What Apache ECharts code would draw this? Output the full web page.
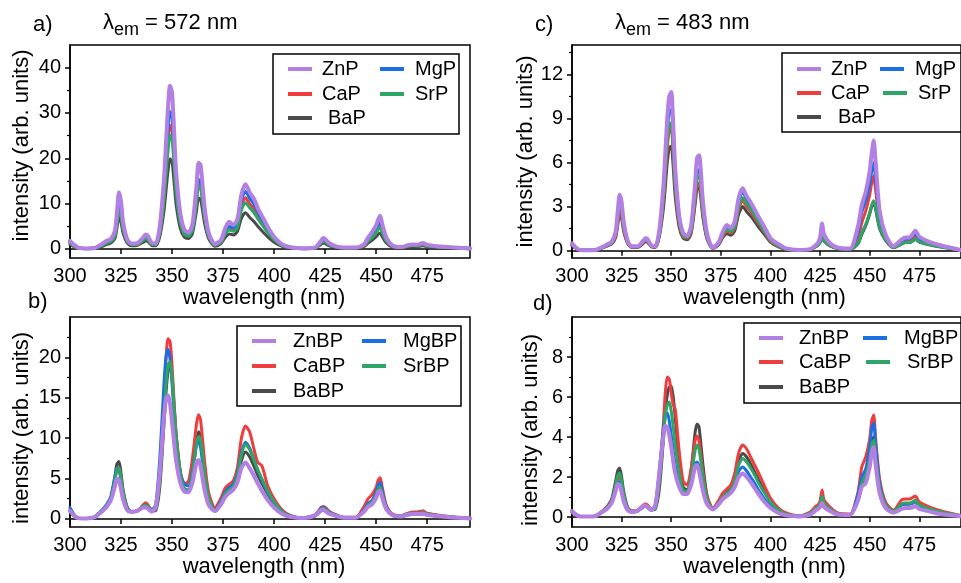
<!DOCTYPE html>
<html>
<head>
<meta charset="utf-8">
<title>Excitation spectra</title>
<script src="https://cdn.jsdelivr.net/npm/echarts@6/dist/echarts.min.js"></script>
<style>
  html, body { margin: 0; padding: 0; background: #fff; }
  #chart { width: 961px; height: 583px; }
</style>
</head>
<body>
<div id="chart"></div>
<script>
// Excitation wavelength grid (nm), shared by all four panels
const wavelength = [300, 302, 304, 308, 312, 316, 318, 320, 322, 323, 324, 325, 326, 328, 330, 333, 336, 337, 338, 340,
  342, 344, 346, 347, 348, 349, 350, 351, 352, 354, 356, 358, 360, 362, 363, 364, 366, 368, 371, 374,
  376, 378, 380, 382, 384, 386, 388, 390, 392, 394, 397, 400, 404, 408, 414, 420, 423, 424, 425, 426,
  427, 430, 434, 440, 444, 446, 448, 450, 451, 452, 453, 455, 458, 462, 466, 468, 470, 472, 473, 475,
  480, 486, 496];

// a) phosphates, emission monitored at 572 nm
const aZnP = [1.8, 0.9, 0.3, 0.1, 0.2, 1.2, 1.8, 2.2, 4.0, 8.0, 12.5, 10.5, 6.0, 2.2, 1.2, 1.3, 2.6, 3.2, 3.0, 1.4,
  1.2, 5.0, 15.0, 23.0, 31.0, 36.0, 34.5, 26.0, 17.0, 8.0, 4.3, 3.6, 5.5, 14.0, 19.0, 18.5, 9.0, 3.5, 1.1, 2.0,
  4.5, 6.0, 5.3, 6.5, 12.0, 14.3, 12.5, 11.2, 9.0, 7.3, 4.8, 2.7, 1.0, 0.4, 0.15, 0.3, 1.8, 2.4, 2.2, 1.7,
  1.3, 0.6, 0.3, 0.3, 1.0, 2.5, 3.7, 5.2, 6.5, 7.3, 5.5, 2.5, 0.8, 0.4, 0.9, 1.0, 0.9, 1.2, 1.3, 0.9,
  0.6, 0.4, 0.1];
const aMgP = [1.5, 0.7, 0.2, 0.1, 0.2, 1.0, 1.5, 1.8, 3.3, 6.5, 10.0, 8.5, 5.0, 1.9, 1.0, 1.1, 2.2, 2.7, 2.5, 1.2,
  1.0, 4.2, 12.5, 19.5, 26.0, 30.3, 29.0, 22.0, 14.5, 6.8, 3.7, 3.1, 4.6, 11.5, 15.3, 15.0, 7.5, 3.0, 0.9, 1.7,
  3.8, 5.0, 4.6, 5.7, 10.7, 12.7, 11.2, 10.0, 8.2, 6.6, 4.3, 2.4, 0.9, 0.35, 0.1, 0.25, 1.5, 2.0, 1.8, 1.4,
  1.1, 0.5, 0.25, 0.25, 0.8, 2.0, 3.0, 4.3, 5.4, 6.0, 4.6, 2.1, 0.7, 0.35, 0.8, 0.85, 0.8, 1.0, 1.1, 0.8,
  0.5, 0.35, 0.1];
const aCaP = [1.4, 0.7, 0.2, 0.1, 0.2, 0.9, 1.4, 1.7, 3.1, 6.2, 9.5, 8.0, 4.7, 1.8, 1.0, 1.0, 2.1, 2.5, 2.3, 1.1,
  1.0, 3.8, 11.3, 17.5, 23.5, 27.3, 26.2, 20.0, 13.2, 6.2, 3.4, 2.9, 4.3, 10.8, 14.3, 14.0, 7.0, 2.8, 0.9, 1.6,
  3.5, 4.6, 4.2, 5.2, 9.5, 11.3, 10.0, 9.0, 7.4, 6.0, 3.9, 2.2, 0.8, 0.3, 0.1, 0.25, 1.4, 1.8, 1.7, 1.3,
  1.0, 0.5, 0.25, 0.25, 0.7, 1.8, 2.7, 3.8, 4.7, 5.2, 4.0, 1.9, 0.6, 0.3, 0.7, 0.8, 0.7, 0.9, 1.0, 0.7,
  0.5, 0.3, 0.1];
const aSrP = [1.3, 0.6, 0.2, 0.1, 0.2, 0.8, 1.3, 1.6, 2.8, 5.6, 8.5, 7.2, 4.3, 1.7, 0.9, 1.0, 1.9, 2.3, 2.1, 1.0,
  0.9, 3.5, 10.4, 16.0, 21.6, 25.1, 24.2, 18.6, 12.3, 5.8, 3.2, 2.8, 4.1, 10.3, 13.7, 13.5, 6.8, 2.7, 0.8, 1.5,
  3.2, 4.2, 3.9, 4.7, 8.6, 10.2, 9.1, 8.1, 6.7, 5.4, 3.5, 2.0, 0.75, 0.3, 0.1, 0.2, 1.3, 1.7, 1.6, 1.2,
  0.9, 0.45, 0.2, 0.2, 0.7, 1.7, 2.5, 3.5, 4.3, 4.7, 3.6, 1.7, 0.55, 0.3, 0.65, 0.75, 0.7, 0.85, 0.95, 0.65,
  0.45, 0.3, 0.1];
const aBaP = [1.0, 0.5, 0.15, 0.05, 0.15, 0.6, 1.0, 1.3, 2.3, 4.6, 7.0, 5.9, 3.5, 1.3, 0.7, 0.8, 1.5, 1.8, 1.7, 0.8,
  0.7, 2.7, 8.2, 12.6, 17.1, 19.9, 19.2, 14.8, 9.8, 4.6, 2.6, 2.3, 3.4, 8.5, 11.2, 11.0, 5.5, 2.2, 0.6, 1.2,
  2.5, 3.3, 3.1, 3.8, 6.8, 8.0, 7.0, 6.1, 5.0, 4.0, 2.6, 1.5, 0.55, 0.2, 0.05, 0.15, 1.0, 1.3, 1.2, 0.9,
  0.7, 0.35, 0.15, 0.15, 0.5, 1.3, 1.9, 2.7, 3.2, 3.5, 2.7, 1.3, 0.4, 0.2, 0.5, 0.55, 0.5, 0.65, 0.7, 0.5,
  0.35, 0.2, 0.05];

// c) phosphates, emission monitored at 483 nm
const cZnP = [0.5, 0.2, 0.05, 0.02, 0.05, 0.3, 0.45, 0.6, 1.3, 2.6, 3.8, 3.3, 2.0, 0.7, 0.3, 0.3, 0.7, 0.85, 0.8, 0.35,
  0.3, 1.4, 4.3, 6.6, 9.0, 10.5, 10.8, 8.6, 5.6, 2.4, 1.2, 1.0, 1.7, 4.5, 6.3, 6.5, 3.3, 1.2, 0.2, 0.6,
  1.3, 1.75, 1.55, 2.0, 3.6, 4.25, 3.7, 3.3, 2.8, 2.3, 1.6, 0.85, 0.45, 0.15, 0.05, 0.1, 0.4, 0.55, 0.9, 1.85,
  1.1, 0.5, 0.2, 0.15, 1.6, 3.1, 4.0, 5.4, 6.6, 7.5, 6.0, 2.7, 1.1, 0.3, 0.75, 0.9, 0.9, 1.2, 1.35, 0.95,
  0.6, 0.35, 0.05];
const cMgP = [0.45, 0.2, 0.05, 0.02, 0.05, 0.28, 0.42, 0.55, 1.2, 2.4, 3.5, 3.0, 1.8, 0.65, 0.28, 0.28, 0.65, 0.8, 0.75, 0.33,
  0.3, 1.3, 3.9, 6.0, 8.1, 9.5, 9.6, 7.7, 5.0, 2.2, 1.1, 0.95, 1.5, 4.0, 5.4, 5.5, 2.8, 1.0, 0.2, 0.55,
  1.2, 1.55, 1.4, 1.8, 3.35, 4.0, 3.5, 3.1, 2.65, 2.15, 1.45, 0.75, 0.35, 0.12, 0.05, 0.1, 0.35, 0.5, 0.8, 1.5,
  0.95, 0.45, 0.18, 0.12, 1.2, 2.6, 3.4, 4.5, 5.4, 6.0, 4.8, 2.3, 0.95, 0.28, 0.65, 0.8, 0.8, 1.05, 1.15, 0.8,
  0.55, 0.3, 0.05];
const cCaP = [0.4, 0.18, 0.05, 0.02, 0.05, 0.25, 0.38, 0.5, 1.0, 1.9, 2.8, 2.45, 1.5, 0.55, 0.25, 0.25, 0.55, 0.7, 0.65, 0.3,
  0.25, 1.1, 3.3, 5.1, 7.0, 8.2, 8.3, 6.6, 4.3, 1.9, 0.95, 0.85, 1.3, 3.4, 4.5, 4.6, 2.4, 0.9, 0.18, 0.5,
  1.0, 1.35, 1.2, 1.55, 2.85, 3.4, 3.0, 2.65, 2.25, 1.85, 1.25, 0.65, 0.3, 0.1, 0.04, 0.08, 0.3, 0.42, 0.65, 1.2,
  0.8, 0.38, 0.15, 0.1, 0.8, 1.9, 2.7, 3.8, 4.6, 5.1, 4.1, 2.0, 0.85, 0.25, 0.55, 0.7, 0.7, 0.9, 1.0, 0.7,
  0.5, 0.28, 0.05];
const cSrP = [0.42, 0.18, 0.05, 0.02, 0.05, 0.26, 0.4, 0.52, 1.1, 2.1, 3.1, 2.7, 1.65, 0.6, 0.26, 0.26, 0.6, 0.75, 0.7, 0.32,
  0.28, 1.2, 3.5, 5.4, 7.4, 8.6, 8.7, 6.9, 4.5, 2.0, 1.0, 0.9, 1.4, 3.7, 5.0, 5.1, 2.6, 0.95, 0.2, 0.52,
  1.1, 1.45, 1.3, 1.65, 3.0, 3.6, 3.2, 2.8, 2.4, 1.95, 1.3, 0.7, 0.32, 0.1, 0.04, 0.08, 0.3, 0.4, 0.55, 0.95,
  0.7, 0.35, 0.15, 0.1, 0.5, 1.2, 1.8, 2.6, 3.1, 3.4, 2.9, 1.6, 0.75, 0.22, 0.45, 0.55, 0.55, 0.7, 0.8, 0.6,
  0.42, 0.25, 0.04];
const cBaP = [0.35, 0.15, 0.04, 0.02, 0.04, 0.22, 0.33, 0.45, 0.9, 1.7, 2.5, 2.2, 1.35, 0.5, 0.22, 0.22, 0.5, 0.62, 0.58, 0.26,
  0.22, 0.95, 2.8, 4.3, 6.0, 7.0, 7.1, 5.7, 3.7, 1.6, 0.85, 0.75, 1.15, 3.1, 4.2, 4.3, 2.2, 0.8, 0.15, 0.42,
  0.9, 1.15, 1.05, 1.35, 2.5, 3.0, 2.65, 2.35, 2.0, 1.6, 1.1, 0.58, 0.26, 0.08, 0.03, 0.07, 0.28, 0.38, 0.55, 0.9,
  0.65, 0.32, 0.13, 0.08, 0.45, 1.1, 1.7, 2.5, 3.0, 3.3, 2.8, 1.5, 0.7, 0.2, 0.45, 0.55, 0.55, 0.7, 0.8, 0.58,
  0.4, 0.24, 0.04];

// b) borophosphates, emission monitored at 572 nm
const bZnBP = [1.0, 0.4, 0.1, 0.05, 0.2, 1.0, 1.5, 2.3, 4.0, 5.0, 4.8, 3.7, 2.4, 1.1, 0.9, 1.0, 1.4, 1.4, 1.3, 0.9,
  1.5, 5.8, 12.5, 14.8, 15.3, 14.3, 12.0, 9.5, 7.2, 4.5, 3.4, 3.3, 4.5, 7.0, 7.3, 6.5, 3.5, 1.7, 0.95, 1.8,
  2.7, 3.2, 3.6, 4.5, 6.3, 7.0, 6.3, 5.4, 4.4, 3.5, 2.3, 1.4, 0.6, 0.25, 0.1, 0.4, 1.1, 1.15, 1.0, 0.8,
  0.65, 0.4, 0.15, 0.15, 0.9, 1.5, 1.8, 2.6, 3.3, 3.5, 2.6, 1.2, 0.45, 0.3, 0.55, 0.6, 0.6, 0.6, 0.65, 0.5,
  0.35, 0.2, 0.05];
const bMgBP = [1.4, 0.55, 0.1, 0.05, 0.25, 1.2, 1.8, 2.8, 5.2, 6.3, 6.1, 4.7, 3.0, 1.3, 0.9, 1.0, 1.6, 1.7, 1.6, 1.1,
  1.8, 7.5, 16.5, 20.0, 21.0, 19.8, 16.8, 13.0, 9.5, 5.8, 4.3, 4.1, 6.0, 9.2, 9.6, 8.8, 4.8, 2.2, 1.1, 2.2,
  3.3, 3.9, 4.3, 5.6, 8.2, 9.5, 8.8, 7.4, 6.0, 4.8, 3.2, 2.0, 0.9, 0.35, 0.12, 0.45, 1.3, 1.4, 1.3, 1.05,
  0.85, 0.5, 0.18, 0.18, 1.1, 1.9, 2.3, 3.3, 4.2, 4.5, 3.4, 1.5, 0.5, 0.35, 0.65, 0.7, 0.7, 0.75, 0.8, 0.6,
  0.4, 0.25, 0.06];
const bCaBP = [1.1, 0.45, 0.1, 0.05, 0.25, 1.1, 1.7, 2.6, 4.8, 6.2, 6.3, 5.0, 3.2, 1.3, 0.9, 1.0, 1.8, 2.0, 1.8, 1.2,
  1.4, 5.5, 14.5, 19.5, 22.3, 22.0, 19.0, 14.5, 10.5, 6.0, 4.4, 4.6, 7.5, 11.8, 12.9, 12.2, 7.0, 3.2, 1.4, 2.6,
  3.8, 4.3, 4.7, 6.3, 10.0, 11.5, 10.8, 8.8, 7.0, 6.6, 4.0, 2.5, 1.1, 0.45, 0.15, 0.5, 1.4, 1.55, 1.45, 1.2,
  0.95, 0.55, 0.2, 0.2, 1.5, 2.5, 3.0, 3.9, 4.8, 5.1, 3.9, 1.7, 0.6, 0.4, 0.75, 0.85, 0.85, 0.95, 1.0, 0.7,
  0.5, 0.3, 0.08];
const bSrBP = [1.0, 0.4, 0.1, 0.05, 0.2, 1.0, 1.6, 2.5, 4.8, 6.1, 6.3, 5.1, 3.3, 1.4, 0.9, 1.0, 1.6, 1.7, 1.6, 1.1,
  1.2, 4.8, 12.5, 16.5, 19.0, 19.5, 17.5, 13.8, 10.2, 5.8, 3.8, 3.6, 5.6, 9.3, 10.2, 9.8, 5.6, 2.6, 1.1, 2.0,
  3.1, 3.6, 4.0, 5.3, 7.9, 9.2, 8.6, 7.4, 6.1, 5.0, 3.4, 2.1, 0.9, 0.35, 0.12, 0.4, 1.2, 1.3, 1.2, 1.0,
  0.8, 0.45, 0.17, 0.17, 1.0, 1.7, 2.1, 2.9, 3.7, 3.9, 3.0, 1.4, 0.5, 0.35, 0.65, 0.7, 0.7, 0.75, 0.8, 0.6,
  0.4, 0.25, 0.06];
const bBaBP = [0.9, 0.35, 0.1, 0.05, 0.2, 1.0, 1.6, 2.6, 5.2, 6.8, 7.1, 5.7, 3.6, 1.5, 0.9, 1.0, 1.5, 1.6, 1.5, 1.0,
  1.0, 4.0, 11.5, 15.5, 18.2, 19.0, 17.6, 14.0, 10.5, 5.8, 3.6, 3.3, 5.4, 9.6, 10.8, 10.4, 5.8, 2.6, 1.0, 1.8,
  2.8, 3.3, 3.7, 4.8, 7.2, 8.3, 7.7, 6.6, 5.4, 4.4, 3.0, 1.8, 0.8, 0.3, 0.1, 0.35, 1.0, 1.1, 1.0, 0.85,
  0.7, 0.4, 0.15, 0.15, 0.9, 1.5, 1.9, 2.7, 3.3, 3.5, 2.7, 1.3, 0.45, 0.3, 0.55, 0.6, 0.6, 0.65, 0.7, 0.5,
  0.35, 0.2, 0.05];

// d) borophosphates, emission monitored at 483 nm
const dZnBP = [0.3, 0.12, 0.03, 0.02, 0.06, 0.3, 0.45, 0.7, 1.3, 1.65, 1.6, 1.25, 0.8, 0.35, 0.25, 0.3, 0.55, 0.58, 0.5, 0.35,
  0.6, 2.2, 4.0, 4.55, 4.5, 4.1, 3.5, 2.8, 2.2, 1.5, 1.15, 1.15, 1.6, 2.5, 2.6, 2.3, 1.3, 0.65, 0.38, 0.65,
  0.9, 1.05, 1.2, 1.5, 2.0, 2.18, 2.0, 1.75, 1.45, 1.15, 0.75, 0.45, 0.2, 0.08, 0.03, 0.12, 0.35, 0.4, 0.5, 0.7,
  0.5, 0.3, 0.12, 0.1, 0.8, 1.5, 1.7, 2.5, 3.2, 3.5, 2.6, 1.2, 0.45, 0.22, 0.4, 0.45, 0.45, 0.5, 0.55, 0.4,
  0.28, 0.15, 0.04];
const dMgBP = [0.3, 0.12, 0.03, 0.02, 0.06, 0.3, 0.45, 0.72, 1.4, 1.75, 1.75, 1.4, 0.9, 0.38, 0.25, 0.3, 0.52, 0.55, 0.5, 0.35,
  0.6, 2.3, 4.4, 5.1, 5.2, 4.8, 4.1, 3.3, 2.6, 1.7, 1.25, 1.25, 1.8, 2.65, 2.75, 2.5, 1.45, 0.7, 0.38, 0.7,
  0.95, 1.1, 1.3, 1.7, 2.3, 2.5, 2.3, 2.0, 1.7, 1.35, 0.9, 0.55, 0.25, 0.1, 0.04, 0.15, 0.4, 0.45, 0.55, 0.8,
  0.55, 0.33, 0.13, 0.12, 1.1, 2.0, 2.4, 3.5, 4.4, 4.7, 3.6, 1.7, 0.6, 0.28, 0.6, 0.65, 0.65, 0.72, 0.78, 0.55,
  0.38, 0.22, 0.05];
const dCaBP = [0.25, 0.1, 0.03, 0.02, 0.06, 0.35, 0.5, 0.8, 1.5, 1.9, 2.0, 1.65, 1.1, 0.45, 0.3, 0.35, 0.6, 0.65, 0.6, 0.4,
  0.55, 2.0, 4.6, 6.2, 7.0, 6.9, 6.2, 5.6, 5.4, 3.3, 1.8, 1.6, 2.4, 3.8, 4.05, 3.8, 2.2, 1.0, 0.45, 0.85,
  1.2, 1.4, 1.6, 2.2, 3.2, 3.6, 3.4, 3.0, 2.6, 2.2, 1.55, 0.95, 0.45, 0.2, 0.06, 0.25, 0.55, 0.6, 0.8, 1.35,
  0.85, 0.5, 0.2, 0.15, 1.2, 2.5, 3.0, 3.9, 4.8, 5.1, 3.9, 1.9, 0.75, 0.35, 0.85, 0.9, 0.9, 1.0, 1.05, 0.75,
  0.5, 0.3, 0.07];
const dSrBP = [0.28, 0.11, 0.03, 0.02, 0.06, 0.33, 0.5, 0.8, 1.6, 2.05, 2.2, 1.8, 1.15, 0.45, 0.28, 0.32, 0.5, 0.55, 0.5, 0.35,
  0.45, 1.7, 4.0, 5.1, 5.6, 5.75, 5.3, 4.5, 3.6, 2.2, 1.35, 1.3, 2.0, 3.3, 3.6, 3.4, 2.0, 0.9, 0.38, 0.72,
  1.0, 1.2, 1.35, 1.8, 2.6, 2.93, 2.75, 2.45, 2.1, 1.7, 1.2, 0.75, 0.35, 0.14, 0.05, 0.2, 0.45, 0.5, 0.65, 1.04,
  0.7, 0.4, 0.15, 0.12, 0.8, 1.7, 2.1, 2.9, 3.6, 3.84, 3.0, 1.5, 0.6, 0.3, 0.65, 0.7, 0.7, 0.78, 0.85, 0.6,
  0.42, 0.25, 0.06];
const dBaBP = [0.25, 0.1, 0.03, 0.02, 0.06, 0.35, 0.55, 0.9, 1.8, 2.3, 2.45, 2.0, 1.3, 0.5, 0.3, 0.33, 0.5, 0.55, 0.5, 0.35,
  0.4, 1.4, 3.8, 5.2, 6.1, 6.5, 6.55, 6.0, 5.0, 2.8, 1.5, 1.35, 2.3, 4.2, 4.65, 4.5, 2.6, 1.1, 0.4, 0.75,
  1.05, 1.25, 1.4, 1.9, 2.8, 3.18, 3.0, 2.65, 2.25, 1.85, 1.3, 0.8, 0.38, 0.15, 0.05, 0.2, 0.45, 0.5, 0.6, 0.95,
  0.65, 0.4, 0.15, 0.12, 0.8, 1.6, 2.0, 3.0, 3.8, 4.0, 3.1, 1.5, 0.55, 0.28, 0.6, 0.65, 0.65, 0.72, 0.78, 0.55,
  0.38, 0.22, 0.05];

// Tick positions
const xTicks = [300, 325, 350, 375, 400, 425, 450, 475];
const yTicksA = [0, 10, 20, 30, 40];
const yMinorA = [5, 15, 25, 35];
const yTicksB = [0, 5, 10, 15, 20];
const yMinorB = [2.5, 7.5, 12.5, 17.5, 22.5];
const yTicksC = [0, 3, 6, 9, 12];
const yMinorC = [1.5, 4.5, 7.5, 10.5, 13.5];
const yTicksD = [0, 2, 4, 6, 8];
const yMinorD = [1, 3, 5, 7, 9];

const FONT = '"Liberation Sans", Arial, Helvetica, sans-serif';
const COLORS = { Zn: '#b27fe3', Mg: '#1a6fe2', Ca: '#ef3d3d', Sr: '#2ea566', Ba: '#4a4a4a' };
const WIDTHS = { Zn: 4, Mg: 3, Ca: 3, Sr: 3, Ba: 3 };

// Plot areas (pixel boxes); the right-hand panels run past the canvas edge
const grids = [
  { left: 70, top: 45, width: 400, height: 213 },   // a
  { left: 70, top: 317, width: 400, height: 210 },  // b
  { left: 572, top: 45, width: 401, height: 213 },  // c
  { left: 572, top: 317, width: 401, height: 210 }  // d
];

const yRanges = [
  { min: -2, max: 45, ticks: yTicksA, minor: yMinorA, gap: 37, pad: [0, 0, 0, 12] },
  { min: -1, max: 25, ticks: yTicksB, minor: yMinorB, gap: 37, pad: [0, 12, 0, 0] },
  { min: -0.5, max: 14, ticks: yTicksC, minor: yMinorC, gap: 30, pad: [0, 0, 0, 0] },
  { min: -0.5, max: 10, ticks: yTicksD, minor: yMinorD, gap: 30, pad: [0, 16, 0, 0] }
];

const xAxis = grids.map((g, i) => ({
  type: 'value', gridIndex: i, min: 300, max: 496,
  name: 'wavelength (nm)', nameLocation: 'middle', nameGap: 29,
  nameTextStyle: { fontSize: 22, color: '#000', fontFamily: FONT, padding: [0, i < 2 ? 12 : 4, 0, 0] },
  axisLine: { show: true, lineStyle: { color: '#000', width: 1.5 } },
  axisTick: { show: true, inside: false, length: 5, customValues: xTicks, lineStyle: { color: '#000', width: 1.5 } },
  axisLabel: { customValues: xTicks, margin: 8, fontSize: 20, color: '#000', fontFamily: FONT },
  splitLine: { show: false }
}));

const yAxis = [];
yRanges.forEach((r, i) => {
  yAxis.push({
    type: 'value', gridIndex: i, min: r.min, max: r.max, position: 'left',
    name: 'intensity (arb. units)', nameLocation: 'middle', nameGap: r.gap,
    nameTextStyle: { fontSize: 22, color: '#000', fontFamily: FONT, padding: r.pad },
    axisLine: { show: true, lineStyle: { color: '#000', width: 1.5 } },
    axisTick: { show: true, inside: false, length: 5, customValues: r.ticks, lineStyle: { color: '#000', width: 1.5 } },
    axisLabel: { customValues: r.ticks, margin: 9, fontSize: 20, color: '#000', fontFamily: FONT },
    splitLine: { show: false }
  });
});
// minor ticks on a second, label-free axis per panel, on the same left edge
yRanges.forEach((r, i) => {
  yAxis.push({
    type: 'value', gridIndex: i, min: r.min, max: r.max, position: 'left', offset: 0,
    axisLine: { show: false },
    axisTick: { show: true, inside: false, length: 3, customValues: r.minor, lineStyle: { color: '#000', width: 1.2 } },
    axisLabel: { show: false },
    splitLine: { show: false }
  });
});

function line(name, values, panel, key) {
  return {
    type: 'line', name: name, xAxisIndex: panel, yAxisIndex: panel,
    data: wavelength.map((w, k) => [w, values[k]]),
    showSymbol: false, smooth: 0.25,
    lineStyle: { color: COLORS[key], width: WIDTHS[key], cap: 'round', join: 'round' },
    itemStyle: { color: COLORS[key] },
    emphasis: { disabled: true },
    animation: false
  };
}

// drawing order: Ba, Ca, Mg, Sr underneath, Zn on top
const series = [
  line('BaP', aBaP, 0, 'Ba'), line('CaP', aCaP, 0, 'Ca'), line('MgP', aMgP, 0, 'Mg'), line('SrP', aSrP, 0, 'Sr'), line('ZnP', aZnP, 0, 'Zn'),
  line('BaBP', bBaBP, 1, 'Ba'), line('CaBP', bCaBP, 1, 'Ca'), line('MgBP', bMgBP, 1, 'Mg'), line('SrBP', bSrBP, 1, 'Sr'), line('ZnBP', bZnBP, 1, 'Zn'),
  line('BaP ', cBaP, 2, 'Ba'), line('CaP ', cCaP, 2, 'Ca'), line('MgP ', cMgP, 2, 'Mg'), line('SrP ', cSrP, 2, 'Sr'), line('ZnP ', cZnP, 2, 'Zn'),
  line('BaBP ', dBaBP, 3, 'Ba'), line('CaBP ', dCaBP, 3, 'Ca'), line('MgBP ', dMgBP, 3, 'Mg'), line('SrBP ', dSrBP, 3, 'Sr'), line('ZnBP ', dZnBP, 3, 'Zn')
];

// one legend entry per component so each can sit in its own slot
function entry(name, left, center, gap, label) {
  return {
    data: [name], left: left, top: center - 10, orient: 'horizontal', padding: 0,
    icon: 'rect', itemWidth: 24, itemHeight: 4, selectedMode: false,
    formatter: () => label,
    textStyle: { fontSize: 20, lineHeight: 20, color: '#000', fontFamily: FONT, padding: [0, 0, 0, gap] }
  };
}

const legend = [
  entry('ZnP', 288, 69, 5, 'ZnP'), entry('MgP', 380, 69, 6, 'MgP'),
  entry('CaP', 288, 94, 5, 'CaP'), entry('SrP', 380, 94, 6, 'SrP'),
  entry('BaP', 288, 118, 11, 'BaP'),
  entry('ZnBP', 252, 341, 12, 'ZnBP'), entry('MgBP', 362, 341, 12, 'MgBP'),
  entry('CaBP', 252, 366, 12, 'CaBP'), entry('SrBP', 362, 366, 12, 'SrBP'),
  entry('BaBP', 252, 391, 12, 'BaBP'),
  entry('ZnP ', 797, 69, 5, 'ZnP'), entry('MgP ', 880, 69, 6, 'MgP'),
  entry('CaP ', 797, 93, 5, 'CaP'), entry('SrP ', 883, 93, 6, 'SrP'),
  entry('BaP ', 797, 117, 12, 'BaP'),
  entry('ZnBP ', 759, 338, 11, 'ZnBP'), entry('MgBP ', 863, 338, 12, 'MgBP'),
  entry('CaBP ', 759, 362, 11, 'CaBP'), entry('SrBP ', 866, 362, 12, 'SrBP'),
  entry('BaBP ', 759, 387, 11, 'BaBP')
];

const titleRich = {
  m: { fontSize: 22, fontFamily: FONT, color: '#000', verticalAlign: 'bottom', padding: [0, 0, 5, 0] },
  s: { fontSize: 18, fontFamily: FONT, color: '#000', verticalAlign: 'bottom' }
};
function label(x, y, text) {
  return { type: 'text', left: x, top: y, style: { text: text, fontSize: 22, fontFamily: FONT, fill: '#000' } };
}
function emission(x, y, nm) {
  return { type: 'text', left: x, top: y, style: { text: '{m|λ}{s|em}{m| = ' + nm + ' nm}', rich: titleRich, fill: '#000' } };
}
function box(x, y, w, h) {
  return { type: 'rect', shape: { x: x, y: y, width: w, height: h }, style: { fill: 'none', stroke: '#000', lineWidth: 1.5 }, z: 10 };
}

const graphic = [
  label(33, 14, 'a)'), emission(103, 12, 572),
  label(535, 14, 'c)'), emission(615, 12, 483),
  label(28, 291, 'b)'), label(533, 293, 'd)'),
  box(273, 54, 186, 80), box(782, 53, 200, 79),
  box(237, 326, 224, 80), box(744, 323, 230, 80)
];

const chart = echarts.init(document.getElementById('chart'), null, { renderer: 'canvas' });
chart.setOption({
  backgroundColor: '#fff',
  animation: false,
  grid: grids.map(g => Object.assign({ show: true, borderColor: '#000', borderWidth: 1.5, backgroundColor: 'transparent' }, g)),
  xAxis: xAxis,
  yAxis: yAxis,
  legend: legend,
  graphic: graphic,
  series: series
});
</script>
</body>
</html>
